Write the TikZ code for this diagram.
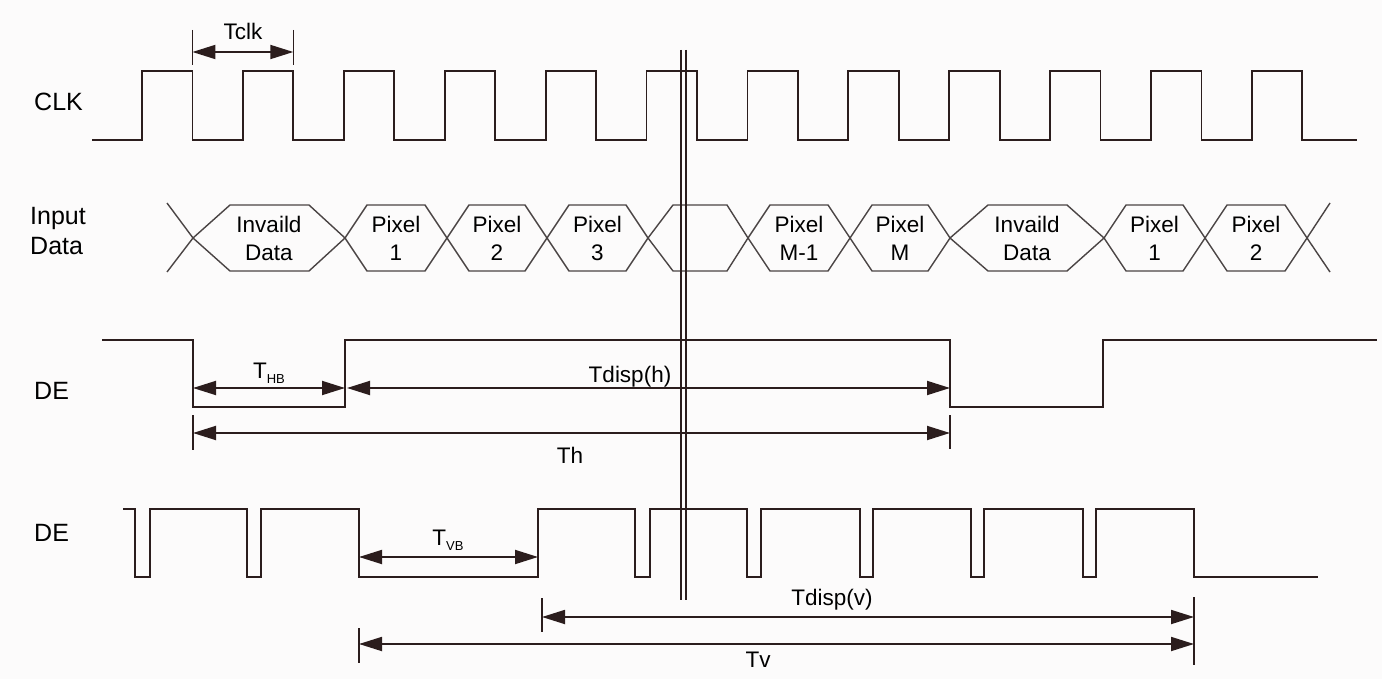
\documentclass[tikz,border=0pt]{standalone}
\usepackage{fontspec}
\setmainfont{Liberation Sans}
\usetikzlibrary{arrows.meta}
\definecolor{wire}{HTML}{2B1D1D}
\definecolor{dline}{HTML}{4A4444}
\definecolor{bgc}{HTML}{FCFBFB}
\newcommand{\hexa}[4]{% x1 x2 dx1 dx2
  \draw[datal] (#1,238) -- ({#1+#3},205) -- ({#2-#4},205) -- (#2,238) -- ({#2-#4},271) -- ({#1+#3},271) -- cycle;}
\begin{document}
\begin{tikzpicture}[x=1pt,y=-1pt,
  sig/.style={line width=1.8pt, draw=wire, line join=miter},
  datal/.style={line width=1.4pt, draw=dline, line join=miter},
  dim/.style={line width=1.8pt, draw=wire, {Triangle[length=23pt,width=14pt]}-{Triangle[length=23pt,width=14pt]}},
  tick/.style={line width=1.5pt, draw=wire},
  lbl/.style={font=\fontsize{25}{30}\selectfont, anchor=base west, inner sep=0pt},
  dtxt/.style={font=\fontsize{22.5}{28}\selectfont, align=center, inner sep=0pt},
  ttxt/.style={font=\fontsize{22.5}{28}\selectfont, anchor=base, inner sep=0pt}]
\useasboundingbox[fill=bgc] (0,0) rectangle (1382,679);

% labels
\node[lbl] (lclk) at (34,111) {CLK};
\node[lbl, align=left, anchor=north west] (ldata) at (30,207) {Input\\Data};
\node[lbl] (lde1) at (34,399) {DE};
\node[lbl] (lde2) at (34,541) {DE};

% CLK
\draw[sig] (92,140) -- (142,140) -- (142,71) -- (192.4,71) -- (192.4,140) -- (242.9,140) -- (242.9,71) -- (293.3,71) -- (293.3,140) -- (343.8,140) -- (343.8,71) -- (394.2,71) -- (394.2,140) -- (444.7,140) -- (444.7,71) -- (495.1,71) -- (495.1,140) -- (545.6,140) -- (545.6,71) -- (596,71) -- (596,140) -- (646.5,140) -- (646.5,71) -- (696.9,71) -- (696.9,140) -- (747.4,140) -- (747.4,71) -- (797.8,71) -- (797.8,140) -- (848.3,140) -- (848.3,71) -- (898.7,71) -- (898.7,140) -- (949.2,140) -- (949.2,71) -- (999.6,71) -- (999.6,140) -- (1050.1,140) -- (1050.1,71) -- (1100.5,71) -- (1100.5,140) -- (1151,140) -- (1151,71) -- (1201.4,71) -- (1201.4,140) -- (1251.9,140) -- (1251.9,71) -- (1302.3,71) -- (1302.3,140) -- (1357,140);

% Tclk
\coordinate (tcA) at (192.4,52);
\coordinate (tcB) at (293.3,52);
\draw[tick] (192.4,30) -- (192.4,65);
\draw[tick] (293.3,30) -- (293.3,65);
\draw[dim] (tcA) -- (tcB);
\node[ttxt] (tclk) at (243,40) {Tclk};

% Input data
\draw[datal] (167,203) -- (193,238) -- (167,272);
\hexa{193}{345}{37}{36}
\hexa{345}{447}{22}{22}
\hexa{447}{547}{22}{22}
\hexa{547}{648}{22}{22}
\hexa{648}{748}{25}{21}
\hexa{748}{850}{22}{22}
\hexa{850}{950}{22}{22}
\hexa{950}{1104}{38}{37}
\hexa{1104}{1205}{22}{22}
\hexa{1205}{1307}{22}{22}
\draw[datal] (1330,203) -- (1307,238) -- (1330,272);
\node[dtxt] (d1) at (269,238) {Invaild\\Data};
\node[dtxt] (d2) at (396,238) {Pixel\\1};
\node[dtxt] (d3) at (497,238) {Pixel\\2};
\node[dtxt] (d4) at (597.5,238) {Pixel\\3};
\node[dtxt] (d5) at (799,238) {Pixel\\M-1};
\node[dtxt] (d6) at (900,238) {Pixel\\M};
\node[dtxt] (d7) at (1027,238) {Invaild\\Data};
\node[dtxt] (d8) at (1154.5,238) {Pixel\\1};
\node[dtxt] (d9) at (1256,238) {Pixel\\2};

% DE 1
\draw[sig] (102,340) -- (193,340) -- (193,407) -- (345,407) -- (345,340) -- (950,340) -- (950,407) -- (1103,407) -- (1103,340) -- (1377,340);
\coordinate (hbA) at (193,388);
\coordinate (hbB) at (345,388);
\coordinate (dhA) at (347,388);
\coordinate (dhB) at (950,388);
\coordinate (thA) at (193,433);
\coordinate (thB) at (950,433);
\draw[dim] (hbA) -- (hbB);
\draw[dim] (dhA) -- (dhB);
\draw[tick] (193,415) -- (193,450);
\draw[tick] (950,415) -- (950,449);
\draw[dim] (thA) -- (thB);
\node[ttxt] (thb) at (269,378) {T\raisebox{-5pt}{\fontsize{13}{15}\selectfont HB}};
\node[ttxt] (tdh) at (630,382) {Tdisp(h)};
\node[ttxt] (th) at (570,463) {Th};

% DE 2
\draw[sig] (123,509) -- (135,509) -- (135,577) -- (150,577) -- (150,509) -- (247,509) -- (247,577) -- (261,577) -- (261,509) -- (359,509) -- (359,577) -- (538,577) -- (538,509) -- (635,509) -- (635,577) -- (650,577) -- (650,509) -- (747,509) -- (747,577) -- (761,577) -- (761,509) -- (860,509) -- (860,577) -- (873,577) -- (873,509) -- (971,509) -- (971,577) -- (984,577) -- (984,509) -- (1083,509) -- (1083,577) -- (1096,577) -- (1096,509) -- (1194,509) -- (1194,577) -- (1318,577);
\coordinate (vbA) at (359,557);
\coordinate (vbB) at (538,557);
\coordinate (dvA) at (542,617);
\coordinate (dvB) at (1194,617);
\coordinate (tvA) at (359,644);
\coordinate (tvB) at (1194,644);
\draw[dim] (vbA) -- (vbB);
\draw[tick] (542,598) -- (542,632);
\draw[tick] (1194,597) -- (1194,665);
\draw[tick] (359,628) -- (359,663);
\draw[dim] (dvA) -- (dvB);
\draw[dim] (tvA) -- (tvB);
\node[ttxt] (tvb) at (448,545) {T\raisebox{-5pt}{\fontsize{13}{15}\selectfont VB}};
\node[ttxt] (tdv) at (832,605) {Tdisp(v)};
\node[ttxt] (tv) at (758,667) {Tv};

% double vertical line
\draw[sig] (681,50) -- (681,600);
\draw[sig] (686,50) -- (686,600);
\end{tikzpicture}
\end{document}
